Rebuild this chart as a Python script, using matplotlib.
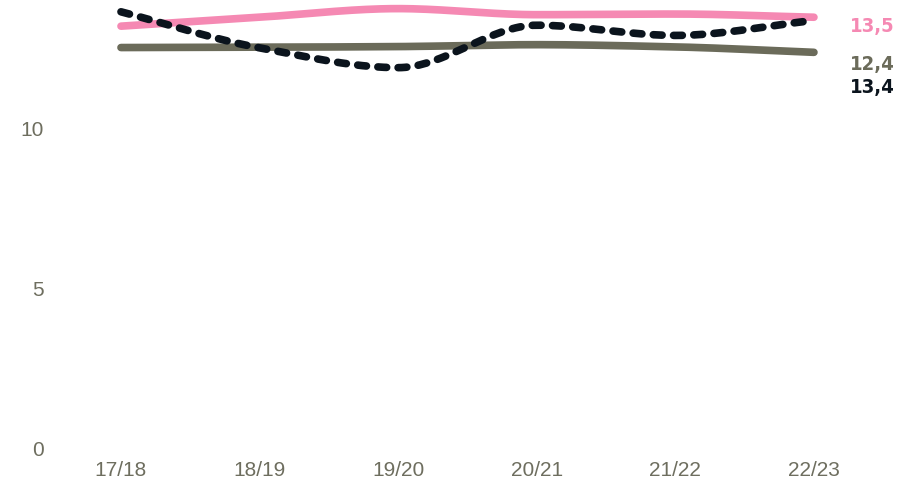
import matplotlib.pyplot as plt
import numpy as np

# data
seasons = ['17/18', '18/19', '19/20', '20/21', '21/22', '22/23']
pink_vals = [13.22, 13.5, 13.77, 13.58, 13.6, 13.5]
gray_vals = [12.55, 12.56, 12.58, 12.64, 12.57, 12.4]
black_vals = [13.67, 12.54, 11.92, 13.25, 12.93, 13.4]
end_labels = ['13,5', '12,4', '13,4']
y_ticks = [0, 5, 10]

PINK = '#f589b3'
GRAY = '#6b6b5a'
BLACK = '#0b141d'
TICK_COLOR = '#6e6e5f'


def monotone_curve(xs, ys, n=40):
    """Monotone cubic (Fritsch-Carlson) smoothing between the points."""
    xs = np.asarray(xs, float)
    ys = np.asarray(ys, float)
    h = np.diff(xs)
    d = np.diff(ys) / h
    m = np.zeros_like(ys)
    m[0], m[-1] = d[0], d[-1]
    for k in range(1, len(ys) - 1):
        if d[k - 1] * d[k] <= 0:
            m[k] = 0
        else:
            m[k] = 3 * (h[k - 1] + h[k]) / ((2 * h[k] + h[k - 1]) / d[k - 1] + (h[k] + 2 * h[k - 1]) / d[k])
    out_x, out_y = [], []
    for k in range(len(xs) - 1):
        t = np.linspace(0, 1, n)
        h00 = 2 * t**3 - 3 * t**2 + 1
        h10 = t**3 - 2 * t**2 + t
        h01 = -2 * t**3 + 3 * t**2
        h11 = t**3 - t**2
        out_x.append(xs[k] + t * h[k])
        out_y.append(h00 * ys[k] + h10 * h[k] * m[k] + h01 * ys[k + 1] + h11 * h[k] * m[k + 1])
    return np.concatenate(out_x), np.concatenate(out_y)


fig = plt.figure(figsize=(8.97, 4.78), dpi=100)
W, H = 897, 478
ax = fig.add_axes([60 / W, (H - 448) / H, 780 / W, 448 / H])

x = np.arange(len(seasons))

for vals, color, dashed in [(gray_vals, GRAY, False), (pink_vals, PINK, False), (black_vals, BLACK, True)]:
    sx, sy = monotone_curve(x, vals)
    line, = ax.plot(sx, sy, color=color, lw=5.5, solid_capstyle='round', clip_on=False)
    if dashed:
        line.set_dashes((1.15, 1.5))
        line.set_dash_capstyle('round')

# end labels, nudged apart so they don't overlap
offsets = [-6.5, -8.6, -48]
for vals, color, lab, dy in zip([pink_vals, gray_vals, black_vals], [PINK, GRAY, BLACK], end_labels, offsets):
    ax.annotate(lab, xy=(x[-1], vals[-1]), xytext=(26, dy), textcoords='offset points',
                ha='left', va='center', color=color, fontsize=14.5, fontweight='bold',
                fontstretch='condensed', family='DejaVu Sans', annotation_clip=False)

ax.set_xlim(-0.44, 5.188)
ax.set_ylim(0, 14.04)
ax.set_xticks(x)
ax.set_xticklabels(seasons)
ax.set_yticks(y_ticks)
ax.tick_params(length=0, labelsize=15, colors=TICK_COLOR)
ax.tick_params(axis='x', pad=9)
ax.tick_params(axis='y', pad=11.5)
for lbl in ax.get_xticklabels() + ax.get_yticklabels():
    lbl.set_family(['Liberation Sans', 'DejaVu Sans'])
for s in ax.spines.values():
    s.set_visible(False)

fig.savefig('out.png', dpi=100)
